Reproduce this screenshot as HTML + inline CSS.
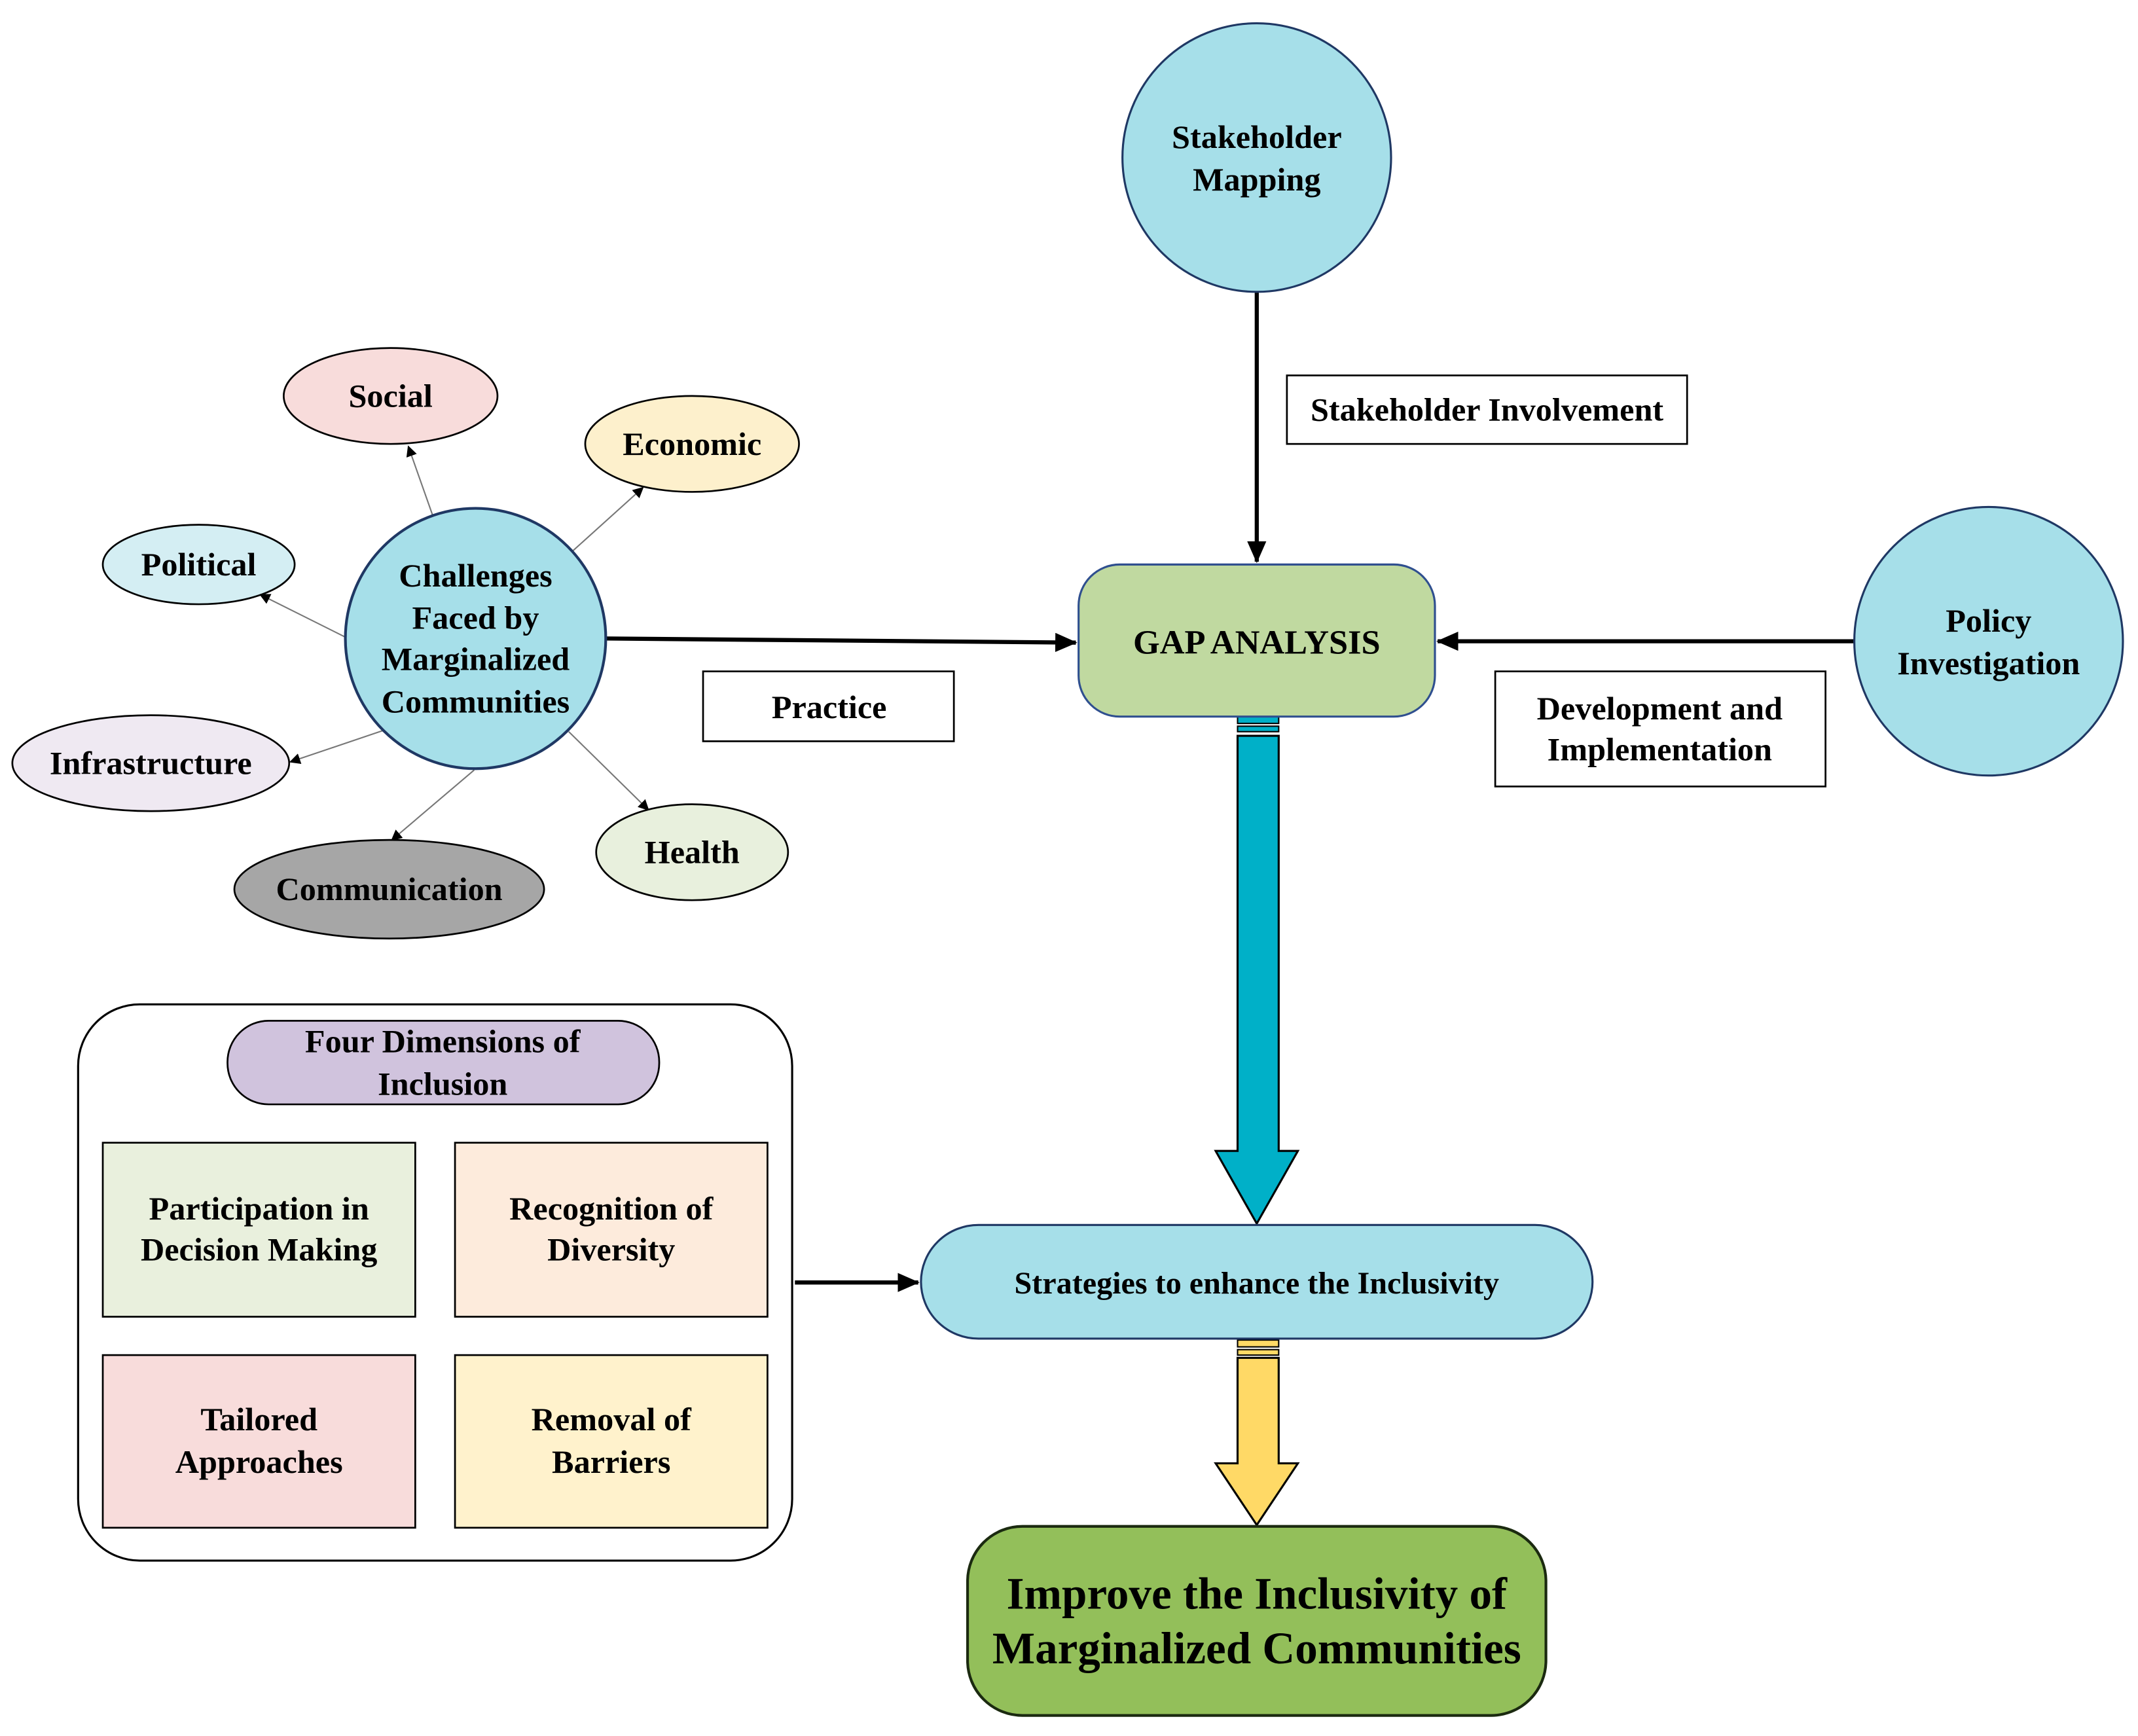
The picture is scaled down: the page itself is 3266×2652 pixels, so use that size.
<!DOCTYPE html>
<html><head><meta charset="utf-8"><style>html,body{margin:0;padding:0;background:#fff}svg{display:block}</style></head>
<body>
<svg width="3266" height="2652" viewBox="0 0 1560 1267" preserveAspectRatio="none" xmlns="http://www.w3.org/2000/svg" font-family="'Liberation Serif', serif" font-weight="bold" text-anchor="middle">
<defs>
<marker id="a" markerWidth="8" markerHeight="8" refX="7" refY="4" orient="auto" markerUnits="userSpaceOnUse"><path d="M0,0 L8,4 L0,8 z" fill="#000"/></marker>
<marker id="b" markerWidth="16" markerHeight="14" refX="15" refY="7" orient="auto" markerUnits="userSpaceOnUse"><path d="M0,0 L16,7 L0,14 z" fill="#000"/></marker>
</defs>
<rect width="1560" height="1267" fill="#fff"/>
<line x1="917" y1="213" x2="917" y2="410" stroke="#000" stroke-width="3" marker-end="url(#b)"/>
<line x1="1353" y1="468" x2="1049" y2="468" stroke="#000" stroke-width="3" marker-end="url(#b)"/>
<line x1="442" y1="466" x2="785" y2="469" stroke="#000" stroke-width="3" marker-end="url(#b)"/>
<line x1="580" y1="936" x2="670" y2="936" stroke="#000" stroke-width="3" marker-end="url(#b)"/>
<g stroke="#777" stroke-width="1" marker-end="url(#a)">
<line x1="316" y1="377" x2="298" y2="326"/>
<line x1="418" y1="402" x2="469" y2="356"/>
<line x1="252" y1="465" x2="190" y2="434"/>
<line x1="280" y1="533" x2="212" y2="556"/>
<line x1="346" y1="562" x2="286" y2="613"/>
<line x1="415" y1="534" x2="473" y2="591"/>
</g>
<circle cx="917" cy="115" r="98" fill="#a6dfe9" stroke="#1f3864" stroke-width="1.5"/>
<text font-size="24" x="917" y="108">Stakeholder</text><text font-size="24" x="917" y="139">Mapping</text>
<circle cx="1451" cy="468" r="98" fill="#a6dfe9" stroke="#1f3864" stroke-width="1.5"/>
<text font-size="24" x="1451" y="461">Policy</text><text font-size="24" x="1451" y="492">Investigation</text>
<ellipse cx="347" cy="466" rx="95" ry="95" fill="#a6dfe9" stroke="#1f3864" stroke-width="2"/>
<g font-size="24"><text x="347" y="428">Challenges</text><text x="347" y="459">Faced by</text><text x="347" y="489">Marginalized</text><text x="347" y="520">Communities</text></g>
<g stroke="#000" stroke-width="1.3">
<ellipse cx="285" cy="289" rx="78" ry="35" fill="#f8dcdb"/>
<ellipse cx="505" cy="324" rx="78" ry="35" fill="#fdf0cc"/>
<ellipse cx="145" cy="412" rx="70" ry="29" fill="#d4eef3"/>
<ellipse cx="110" cy="557" rx="101" ry="35" fill="#efe9f2"/>
<ellipse cx="284" cy="649" rx="113" ry="36" fill="#a6a6a6"/>
<ellipse cx="505" cy="622" rx="70" ry="35" fill="#e8f0dd"/>
</g>
<g font-size="24">
<text x="285" y="297">Social</text><text x="505" y="332">Economic</text><text x="145" y="420">Political</text>
<text x="110" y="565">Infrastructure</text><text x="284" y="657">Communication</text><text x="505" y="630">Health</text>
</g>
<g fill="#fff" stroke="#000" stroke-width="1.3">
<rect x="939" y="274" width="292" height="50"/>
<rect x="1091" y="490" width="241" height="84"/>
<rect x="513" y="490" width="183" height="51"/>
</g>
<g font-size="24"><text x="1085" y="307">Stakeholder Involvement</text>
<text x="1211" y="525">Development and</text><text x="1211" y="555">Implementation</text>
<text x="605" y="524">Practice</text></g>
<rect x="903" y="523" width="30" height="5" fill="#00b0c8" stroke="#000" stroke-width="1"/>
<rect x="903" y="530" width="30" height="4" fill="#00b0c8" stroke="#000" stroke-width="1"/>
<path d="M903,537 L933,537 L933,840 L947,840 L917,893 L887,840 L903,840 Z" fill="#00b0c8" stroke="#000" stroke-width="1.5"/>
<rect x="787" y="412" width="260" height="111" rx="30" fill="#c0d9a0" stroke="#2f4f8f" stroke-width="1.5"/>
<text font-size="25" x="917" y="477">GAP ANALYSIS</text>
<rect x="903" y="978" width="30" height="5" fill="#ffd966" stroke="#000" stroke-width="1"/>
<rect x="903" y="985" width="30" height="4" fill="#ffd966" stroke="#000" stroke-width="1"/>
<path d="M903,991 L933,991 L933,1068 L947,1068 L917,1113 L887,1068 L903,1068 Z" fill="#ffd966" stroke="#000" stroke-width="1.5"/>
<rect x="672" y="894" width="490" height="83" rx="42" fill="#a6dfe9" stroke="#1f3864" stroke-width="1.5"/>
<text font-size="23" x="917" y="944">Strategies to enhance the Inclusivity</text>
<rect x="706" y="1114" width="422" height="138" rx="40" fill="#93bf5a" stroke="#1b2a10" stroke-width="2"/>
<text font-size="33" x="917" y="1174">Improve the Inclusivity of</text>
<text font-size="33" x="917" y="1214">Marginalized Communities</text>
<rect x="57" y="733" width="521" height="406" rx="45" fill="#fff" stroke="#000" stroke-width="1.5"/>
<rect x="166" y="745" width="315" height="61" rx="30" fill="#d0c3dd" stroke="#000" stroke-width="1.3"/>
<text font-size="24" x="323" y="768">Four Dimensions of</text><text font-size="24" x="323" y="799">Inclusion</text>
<g stroke="#000" stroke-width="1.3">
<rect x="75" y="834" width="228" height="127" fill="#e9f0dd"/>
<rect x="332" y="834" width="228" height="127" fill="#fdebdc"/>
<rect x="75" y="989" width="228" height="126" fill="#f8dcdb"/>
<rect x="332" y="989" width="228" height="126" fill="#fff2cc"/>
</g>
<g font-size="24">
<text x="189" y="890">Participation in</text><text x="189" y="920">Decision Making</text>
<text x="446" y="890">Recognition of</text><text x="446" y="920">Diversity</text>
<text x="189" y="1044">Tailored</text><text x="189" y="1075">Approaches</text>
<text x="446" y="1044">Removal of</text><text x="446" y="1075">Barriers</text>
</g>
</svg>
</body></html>
